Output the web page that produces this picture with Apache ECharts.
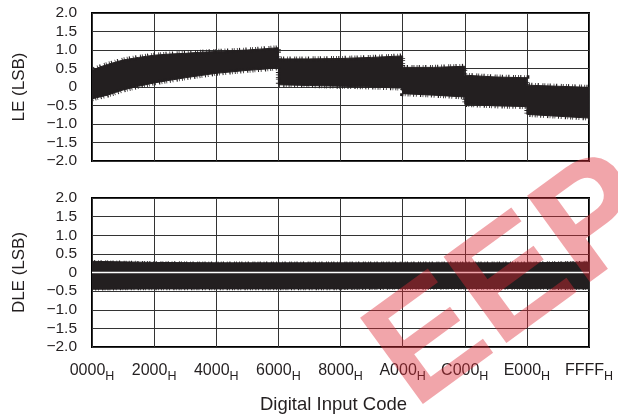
<!DOCTYPE html>
<html>
<head>
<meta charset="utf-8">
<script src="https://cdn.jsdelivr.net/npm/echarts@6/dist/echarts.min.js"></script>
<style>html,body{margin:0;padding:0;background:#fff;}#c{width:618px;height:418px;}</style>
</head>
<body>
<div id="c"></div>
<script>
// X tick labels (hex codes, subscript H added in rendering)
const xTickLabels = ['0000','2000','4000','6000','8000','A000','C000','E000','FFFF'];
const yTickLabels = ['\u22122.0','\u22121.5','\u22121.0','\u22120.5','0','0.5','1.0','1.5','2.0'];

// LE (LSB) band envelope: code, upper edge, lower edge
const leCode = [0, 1024, 2048, 3072, 4096, 6144, 8192, 10240, 12288, 14336, 16384, 18432, 20480, 22528, 24575,
                24576, 28672, 32768, 36864, 40959,
                40960, 45056, 49151,
                49152, 53248, 57343,
                57344, 61440, 65535];
const leHigh = [0.45, 0.54, 0.61, 0.67, 0.73, 0.80, 0.86, 0.89, 0.91, 0.94, 0.96, 0.98, 1.00, 1.03, 1.06,
                0.76, 0.76, 0.77, 0.80, 0.84,
                0.53, 0.53, 0.56,
                0.32, 0.27, 0.25,
                0.05, 0.02, -0.01];
const leLow  = [-0.32, -0.27, -0.22, -0.15, -0.08, 0.02, 0.11, 0.18, 0.25, 0.31, 0.37, 0.41, 0.45, 0.48, 0.52,
                0.06, 0.04, 0.02, 0.00, -0.03,
                -0.18, -0.22, -0.27,
                -0.47, -0.51, -0.53,
                -0.74, -0.79, -0.84];

// DLE (LSB) band envelope
const dleCode = [0, 8192, 16384, 24576, 32768, 40960, 49152, 57344, 65535];
const dleHigh = [0.30, 0.27, 0.26, 0.26, 0.26, 0.26, 0.26, 0.26, 0.28];
const dleLow  = [-0.45, -0.44, -0.44, -0.44, -0.44, -0.43, -0.43, -0.43, -0.44];

const FONT = 'Liberation Sans, Arial, Helvetica, sans-serif';
const INK = '#231f20';

function bandRender(codes, hi, lo, fringe) {
  return function (params, api) {
    const up = [], dn = [];
    for (let i = 0; i < codes.length; i++) up.push(api.coord([codes[i], hi[i]]));
    for (let i = codes.length - 1; i >= 0; i--) dn.push(api.coord([codes[i], lo[i]]));
    return { type: 'group', children: [
      { type: 'polygon', shape: { points: up.concat(dn) }, style: { fill: INK, stroke: INK, lineWidth: 1 } },
      { type: 'polyline', shape: { points: up }, style: { fill: null, stroke: INK, lineWidth: fringe,
          lineDash: [0.8, 1.3, 1.1, 2.9, 0.7, 1.7, 1.2, 3.6, 0.9, 1.1, 0.8, 2.3] } },
      { type: 'polyline', shape: { points: dn }, style: { fill: null, stroke: INK, lineWidth: fringe,
          lineDash: [0.9, 2.1, 0.7, 1.4, 1.2, 3.3, 0.8, 1.8, 1.0, 2.7, 0.7, 1.2] } }
    ] };
  };
}

function xAxisDef(idx, showLabels) {
  return {
    type: 'value', gridIndex: idx, min: 0, max: 65536, interval: 8192,
    axisLine: { show: false }, axisTick: { show: false },
    splitLine: { show: true, lineStyle: { color: '#333', width: 1 } },
    axisLabel: {
      show: showLabels, margin: 16, showMaxLabel: true, showMinLabel: true,
      formatter: function (v) { return '{a|' + xTickLabels[Math.round(v / 8192)] + '}{h|H}'; },
      rich: {
        a: { fontSize: 16, fontFamily: FONT, color: INK, lineHeight: 20, verticalAlign: 'top' },
        h: { fontSize: 12.5, fontFamily: FONT, color: INK, lineHeight: 20, verticalAlign: 'top', padding: [7, 0, 0, 0] }
      }
    },
    name: showLabels ? 'Digital Input Code' : '',
    nameLocation: 'middle', nameGap: 48,
    nameTextStyle: { fontSize: 18.5, fontFamily: FONT, color: INK, padding: [0, 14, 0, 0] }
  };
}
function yAxisDef(idx, name) {
  return {
    type: 'value', gridIndex: idx, min: -2, max: 2, interval: 0.5,
    axisLine: { show: false }, axisTick: { show: false },
    splitLine: { show: true, lineStyle: { color: '#333', width: 1 } },
    axisLabel: {
      margin: 15, fontSize: 15.5, fontFamily: FONT, color: INK,
      formatter: function (v) { return yTickLabels[Math.round((v + 2) / 0.5)]; }
    },
    name: name, nameLocation: 'middle', nameGap: 64, nameRotate: 90,
    nameTextStyle: { fontSize: 17, fontFamily: FONT, color: INK }
  };
}

const chart = echarts.init(document.getElementById('c'), null, { renderer: 'canvas' });
chart.setOption({
  animation: false,
  backgroundColor: '#fff',
  grid: [
    { left: 92, top: 13, width: 497, height: 148, show: true, borderColor: '#000', borderWidth: 2, backgroundColor: 'transparent' },
    { left: 92, top: 198, width: 497, height: 149, show: true, borderColor: '#000', borderWidth: 2, backgroundColor: 'transparent' }
  ],
  xAxis: [xAxisDef(0, false), xAxisDef(1, true)],
  yAxis: [yAxisDef(0, 'LE (LSB)'), yAxisDef(1, 'DLE (LSB)')],
  series: [
    { type: 'custom', xAxisIndex: 0, yAxisIndex: 0, clip: true,
      data: [[leCode[0], leHigh[0]]], renderItem: bandRender(leCode, leHigh, leLow, 5) },
    { type: 'custom', xAxisIndex: 1, yAxisIndex: 1, clip: true,
      data: [[dleCode[0], dleHigh[0]]], renderItem: bandRender(dleCode, dleHigh, dleLow, 2.5) },
    { type: 'line', xAxisIndex: 1, yAxisIndex: 1, symbol: 'none', z: 5,
      data: [[0, 0], [65536, 0]], lineStyle: { color: '#fff', width: 1.5 } }
  ],
  graphic: [{
    type: 'text', x: 435, y: 438, rotation: 0.63, z: 100, silent: true,
    style: { text: 'EEP', font: 'bold 155px ' + FONT, fill: 'rgba(222,40,52,0.42)',
             textAlign: 'left', textVerticalAlign: 'bottom' }
  }]
});
</script>
</body>
</html>
